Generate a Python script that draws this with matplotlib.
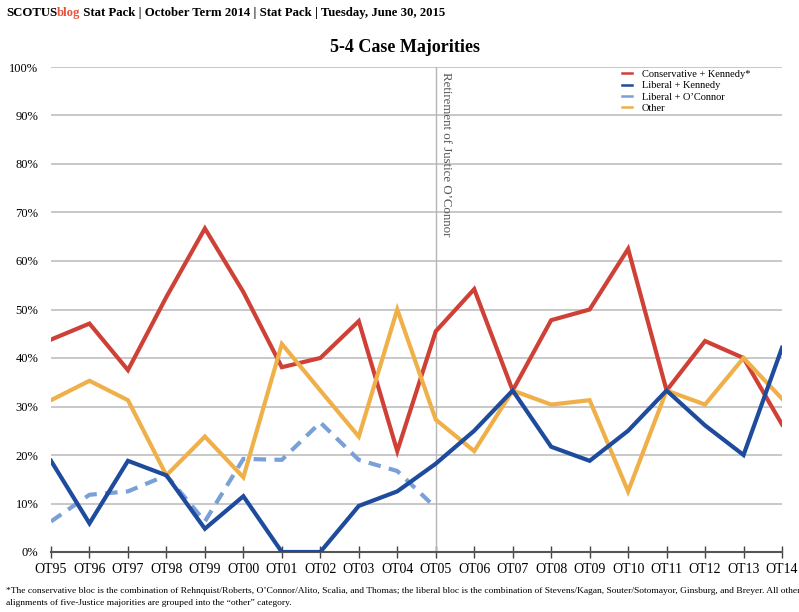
import matplotlib
matplotlib.use("Agg")
import matplotlib.pyplot as plt
import numpy as np

terms = ["OT95", "OT96", "OT97", "OT98", "OT99", "OT00", "OT01", "OT02", "OT03", "OT04",
         "OT05", "OT06", "OT07", "OT08", "OT09", "OT10", "OT11", "OT12", "OT13", "OT14"]
conservative_kennedy = [43.8, 47.1, 37.5, 52.6, 66.7, 53.6, 38.1, 40.0, 47.6, 20.8,
                        45.5, 54.2, 33.3, 47.8, 50.0, 62.5, 33.3, 43.5, 40.0, 26.3]
liberal_kennedy = [18.8, 5.9, 18.8, 15.8, 4.8, 11.5, 0.0, 0.0, 9.5, 12.5,
                   18.2, 25.0, 33.3, 21.7, 18.8, 25.0, 33.3, 26.1, 20.0, 42.1]
liberal_oconnor = [6.3, 11.8, 12.5, 15.8, 6.3, 19.2, 19.0, 26.7, 19.0, 16.7,
                   9.1]
other = [31.3, 35.3, 31.3, 15.8, 23.8, 15.4, 42.9, 33.3, 23.8, 50.0,
         27.3, 20.8, 33.3, 30.4, 31.3, 12.5, 33.3, 30.4, 40.0, 31.6]
yticks = list(range(0, 101, 10))

serif = ["Liberation Serif", "DejaVu Serif"]
plt.rcParams['font.family'] = serif

fig = plt.figure(figsize=(7.99, 6.12), dpi=100)
ax = fig.add_axes([51/799, 60/612, 731/799, 485/612])

x = np.arange(len(terms))
ax.plot(x, conservative_kennedy, color="#cf4037", lw=3.0, label="Conservative + Kennedy*", zorder=4, solid_joinstyle="miter")
ax.plot(x, liberal_kennedy, color="#1e4b9c", lw=3.0, label="Liberal + Kennedy", zorder=5, solid_joinstyle="miter")
ax.plot(x[:len(liberal_oconnor)], liberal_oconnor, color="#7aa0d8", lw=3.0, ls=(0, (3, 2)),
        label="Liberal + O\u2019Connor", zorder=3)
ax.plot(x, other, color="#efb04a", lw=3.0, label="Other", zorder=4, solid_joinstyle="miter")

ax.set_xlim(0, len(terms) - 1)
ax.set_ylim(0, 100)
ax.set_yticks(yticks)
ax.set_yticklabels([f"{v}%" for v in yticks], fontsize=9)
ax.set_xticks(x)
ax.set_xticklabels(terms, fontsize=10)
ax.yaxis.grid(True, color="#c4c4c4", lw=1.3)
ax.tick_params(axis="y", length=0, pad=9)
ax.tick_params(axis="x", direction="inout", length=8, width=1, color="#444444", pad=4)
for s in ["top", "right", "left"]:
    ax.spines[s].set_visible(False)
ax.spines["bottom"].set_color("#555555")
ax.spines["bottom"].set_linewidth(1.5)
ax.set_axisbelow(True)

ax.axvline(10, color="#b5b5b5", lw=1.0, zorder=1)
ax.text(10.12, 99, "Retirement of Justice O\u2019Connor", rotation=-90, va="top", ha="left",
        fontsize=9.3, color="#555555")

leg = ax.legend(loc="upper left", bbox_to_anchor=(0.77, 1.012), frameon=False, fontsize=7.5,
                handlelength=0.9, handletextpad=1.0, labelspacing=0.2, borderpad=0.3)
for h in leg.get_lines():
    h.set_linewidth(1.8)
    h.set_linestyle("-")

# Header
hy = 1 - 13/612
h0 = fig.text(6/799, hy, "SCOTUS", fontsize=9.2, fontweight="bold", va="center", ha="left")
r = fig.canvas.get_renderer()
def place_after(prev, s, color="black"):
    bb = prev.get_window_extent(renderer=r)
    return fig.text(bb.x1 / fig.bbox.width, hy, s, fontsize=9.2, fontweight="bold",
                    va="center", ha="left", color=color)
h1 = place_after(h0, "blog", "#e8513a")
h2 = place_after(h1, " Stat Pack | October Term 2014 | Stat Pack | Tuesday, June 30, 2015")

fig.text(405/799, 1 - 47/612, "5-4 Case Majorities", fontsize=13, fontweight="bold",
         ha="center", va="center")

fig.text(6/799, 1 - 591/612,
         "*The conservative bloc is the combination of Rehnquist/Roberts, O\u2019Connor/Alito, Scalia, and Thomas; the liberal bloc is the combination of Stevens/Kagan, Souter/Sotomayor, Ginsburg, and Breyer. All other",
         fontsize=6.8, ha="left", va="center")
fig.text(6/799, 1 - 603/612,
         "alignments of five-Justice majorities are grouped into the \u201cother\u201d category.",
         fontsize=6.8, ha="left", va="center")

fig.savefig("out.png", dpi=100)
